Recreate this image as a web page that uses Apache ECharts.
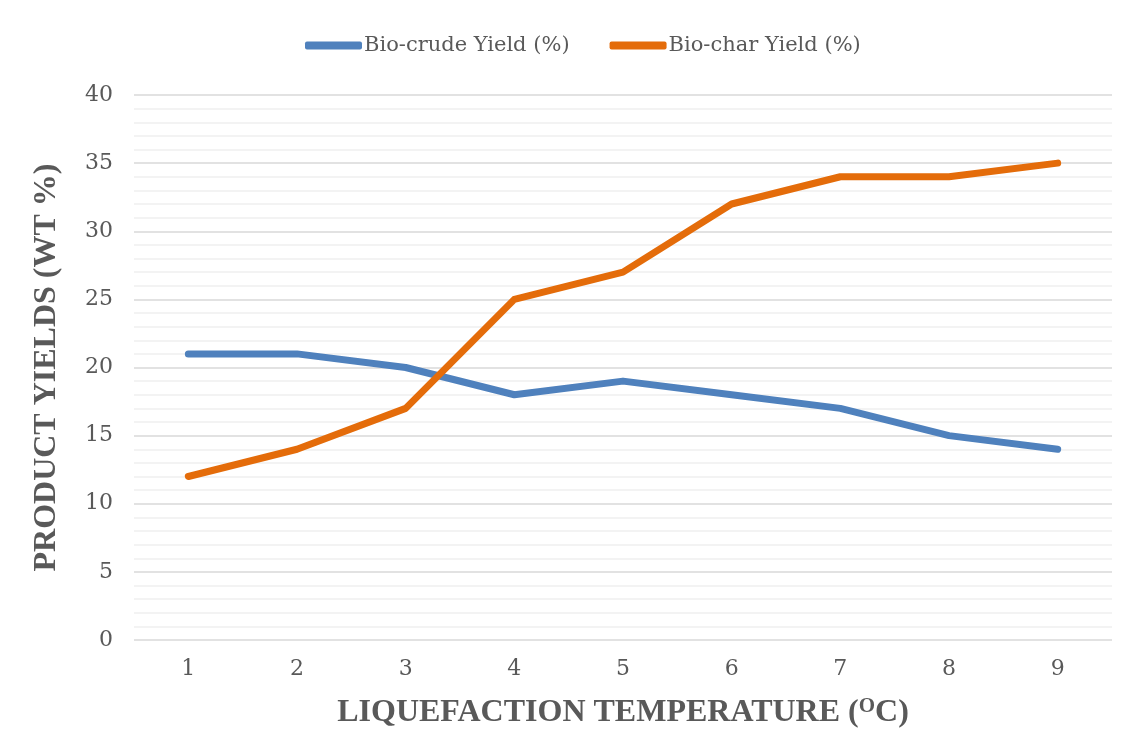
<!DOCTYPE html>
<html><head><meta charset="utf-8">
<script src="https://cdn.jsdelivr.net/npm/echarts@6/dist/echarts.min.js"></script>
<style>html,body{margin:0;padding:0;background:#fff}#c{width:1131px;height:756px}</style>
</head><body><div id="c"></div>
<script>
const categories = ['1','2','3','4','5','6','7','8','9'];
const bioCrude = [21,21,20,18,19,18,17,15,14];
const bioChar = [12,14,17,25,27,32,34,34,35];
const seriesNames = ['Bio-crude Yield (%)','Bio-char Yield (%)'];
const xTitle = 'LIQUEFACTION TEMPERATURE ({sup|O}C)';
const yTitle = 'PRODUCT YIELDS (WT %)';

const titleStyle = {fontFamily:'Liberation Serif', fontWeight:'bold', fontSize:32, color:'#595959'};
const chart = echarts.init(document.getElementById('c'));
chart.setOption({
  animation:false,
  backgroundColor:'#fff',
  legend:{
    top:30, left:300, itemGap:40, itemWidth:57, itemHeight:8,
    icon:'roundRect',
    textStyle:{fontFamily:'DejaVu Serif', fontSize:21, color:'#595959', padding:[0,0,0,-3]},
    data:seriesNames
  },
  grid:{left:134, right:19, top:95, bottom:116, containLabel:false},
  xAxis:{
    type:'category', data:categories, boundaryGap:true,
    axisLine:{show:false}, axisTick:{show:false},
    axisLabel:{fontFamily:'DejaVu Serif', fontSize:22, color:'#595959', margin:18},
    name:xTitle, nameLocation:'middle', nameGap:56,
    nameTextStyle:Object.assign({}, titleStyle, {rich:{sup:{fontFamily:'Liberation Serif', fontWeight:'bold', fontSize:21, color:'#595959', verticalAlign:'top', padding:[0,0,12,0]}}})
  },
  yAxis:{
    type:'value', min:0, max:40, interval:5,
    axisLine:{show:false}, axisTick:{show:false},
    axisLabel:{fontFamily:'DejaVu Serif', fontSize:22, color:'#595959', margin:21},
    splitLine:{show:true, lineStyle:{color:'#d9d9d9', width:1.5}},
    minorTick:{show:false, splitNumber:5},
    minorSplitLine:{show:true, lineStyle:{color:'#f0f0f0', width:1.5}},
    name:yTitle, nameLocation:'middle', nameGap:71, nameRotate:90,
    nameTextStyle:titleStyle
  },
  series:[
    {name:seriesNames[0], type:'line', data:bioCrude, symbol:'none', color:'#4f81bd',
     lineStyle:{width:7, color:'#4f81bd', cap:'round', join:'round'}},
    {name:seriesNames[1], type:'line', data:bioChar, symbol:'none', color:'#e46c0a',
     lineStyle:{width:7, color:'#e46c0a', cap:'round', join:'round'}}
  ]
});
</script></body></html>
